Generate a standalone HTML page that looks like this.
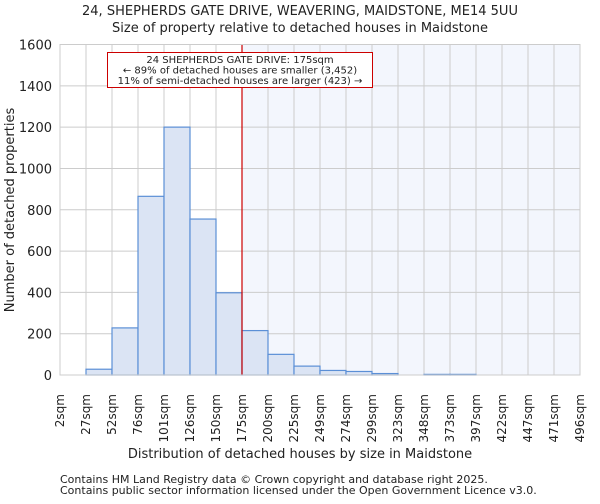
<!DOCTYPE html>
<html><head><meta charset="utf-8"><style>
body{margin:0;background:#fff;font-family:"DejaVu Sans","Liberation Sans",sans-serif;}
svg text{font-family:"DejaVu Sans","Liberation Sans",sans-serif;fill:#222;}
</style></head><body>
<svg id="chart" width="600" height="500" xmlns="http://www.w3.org/2000/svg">
<text x="300" y="15" font-size="13" text-anchor="middle">24, SHEPHERDS GATE DRIVE, WEAVERING, MAIDSTONE, ME14 5UU</text>
<text x="300" y="32" font-size="13" text-anchor="middle">Size of property relative to detached houses in Maidstone</text>
<g id="plot"></g>
<text x="300" y="458" font-size="13" text-anchor="middle">Distribution of detached houses by size in Maidstone</text>
<text transform="translate(14,210) rotate(-90)" font-size="13" text-anchor="middle">Number of detached properties</text>
<text x="60" y="483" font-size="11">Contains HM Land Registry data © Crown copyright and database right 2025.</text>
<text x="60" y="494" font-size="11">Contains public sector information licensed under the Open Government Licence v3.0.</text>
</svg>
<script>
const categories=["2sqm","27sqm","52sqm","76sqm","101sqm","126sqm","150sqm","175sqm","200sqm","225sqm","249sqm","274sqm","299sqm","323sqm","348sqm","373sqm","397sqm","422sqm","447sqm","471sqm","496sqm"];
const counts=[0,28,228,865,1200,755,398,215,100,43,22,17,7,0,3,3,0,0,0,0];
const yTicks=[0,200,400,600,800,1000,1200,1400,1600];
const markerBin=7;
const L=60,R=580,T=44.5,B=375,yMax=1600;
const bw=(R-L)/counts.length;
const xs=i=>L+i*bw;
const ys=v=>B-(v/yMax)*(B-T);
const NS="http://www.w3.org/2000/svg";
const g=document.getElementById('plot');
function mk(t,a){const e=document.createElementNS(NS,t);for(const k in a)e.setAttribute(k,a[k]);g.appendChild(e);return e;}
let e;
e=mk('rect',{x:xs(markerBin),y:T,width:R-xs(markerBin),height:B-T,fill:'#f3f6fd'});


for(let i=0;i<categories.length;i++){
 e=mk('line',{x1:xs(i),x2:xs(i),y1:T,y2:B,stroke:'#cccccc','stroke-width':1});
 
 
 e=mk('text',{transform:`translate(${xs(i)+4},394) rotate(-90)`,'font-size':12,'text-anchor':'end'});
 e.textContent=categories[i];
 
 
}
yTicks.forEach(v=>{
 e=mk('line',{x1:L,x2:R,y1:ys(v),y2:ys(v),stroke:'#cccccc','stroke-width':1});
 
 
 e=mk('text',{x:L-8,y:ys(v)+5,'font-size':13,'text-anchor':'end'});
 e.textContent=v;
 
 
});
counts.forEach((c,i)=>{
 if(c<=0)return;
 e=mk('rect',{x:xs(i),y:ys(c),width:bw,height:B-ys(c),fill:'#dbe4f4',stroke:'#5b8fd6','stroke-width':1.2});
 
 
});
e=mk('line',{x1:xs(markerBin),x2:xs(markerBin),y1:T,y2:B,stroke:'#cc0000','stroke-width':1.2});


e=mk('rect',{x:107.5,y:52.5,width:265,height:35,fill:'#fff',stroke:'#cc0000','stroke-width':1});


["24 SHEPHERDS GATE DRIVE: 175sqm","← 89% of detached houses are smaller (3,452)","11% of semi-detached houses are larger (423) →"].forEach((s,k)=>{
 e=mk('text',{x:240,y:63+k*10.5,'font-size':10,'text-anchor':'middle'});
 e.textContent=s;
 
 
});
e=mk('rect',{x:L,y:T,width:R-L,height:B-T,fill:'none',stroke:'#cccccc','stroke-width':1});


</script>
</body></html>
